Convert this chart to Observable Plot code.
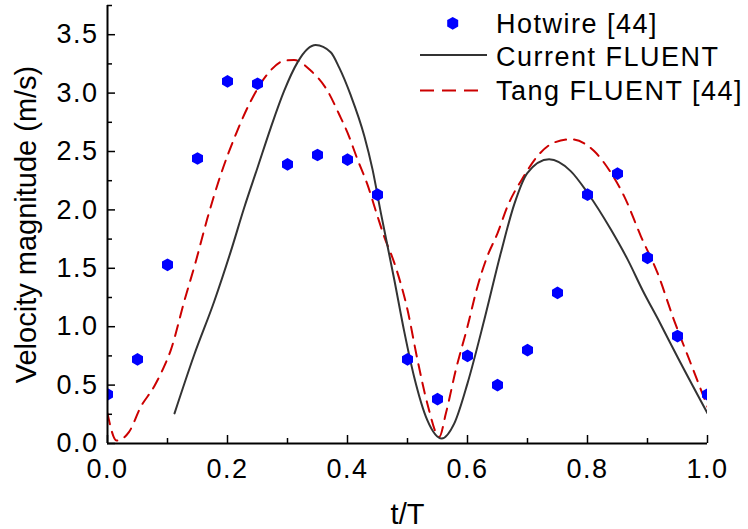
<!DOCTYPE html>
<html><head><meta charset="utf-8">
<script src="https://cdn.jsdelivr.net/npm/d3@7"></script>
<script src="https://cdn.jsdelivr.net/npm/@observablehq/plot@0.6"></script>
<style>
body{margin:0;background:#fff;}
#wrap{position:relative;width:748px;height:529px;}
</style></head><body><div id="wrap"></div>
<script>
// ---- data ----
const hotwireT = [0,0.05,0.1,0.15,0.2,0.25,0.3,0.35,0.4,0.45,0.5,0.55,0.6,0.65,0.7,0.75,0.8,0.85,0.9,0.95,1.0];
const hotwireV = [0.42,0.72,1.53,2.44,3.10,3.08,2.39,2.47,2.43,2.13,0.72,0.38,0.75,0.50,0.80,1.29,2.13,2.31,1.59,0.92,0.42];

const currentT = [0.1117,0.1444,0.1778,0.2055,0.2278,0.250,0.2722,0.2944,0.3167,0.3333,0.347,0.372,0.386,0.4055,0.428,0.4417,0.4555,0.478,0.494,0.511,0.533,0.557,0.578,0.600,0.628,0.6555,0.678,0.700,0.736,0.772,0.800,0.839,0.867,0.892,0.920,0.950,1.0];
const currentV = [0.258,0.758,1.216,1.645,2.018,2.361,2.705,3.019,3.263,3.377,3.411,3.349,3.220,2.980,2.633,2.347,1.977,1.402,0.973,0.572,0.200,0.043,0.172,0.515,1.059,1.631,2.050,2.318,2.433,2.332,2.147,1.832,1.574,1.310,1.040,0.740,0.258];

const tangT = [0,0.015,0.036,0.0555,0.078,0.0917,0.1055,0.1278,0.1472,0.1667,0.1889,0.2139,0.2389,0.2667,0.2944,0.311,0.339,0.3667,0.386,0.400,0.4166,0.433,0.450,0.461,0.478,0.500,0.5167,0.533,0.553,0.564,0.5805,0.600,0.6167,0.633,0.650,0.6667,0.694,0.7167,0.744,0.772,0.811,0.839,0.861,0.889,0.9167,0.944,0.972,1.0];
const tangV = [0.258,0.025,0.100,0.314,0.490,0.629,0.800,1.216,1.559,1.932,2.304,2.647,2.933,3.163,3.277,3.283,3.191,3.019,2.819,2.662,2.433,2.220,1.946,1.774,1.546,1.145,0.715,0.343,0.057,0.258,0.629,1.001,1.345,1.602,1.800,2.031,2.289,2.461,2.576,2.604,2.504,2.318,2.118,1.774,1.460,1.059,0.687,0.314];

const xMajorTicks = [0,0.2,0.4,0.6,0.8,1.0];
const xMinorTicks = [0.1,0.3,0.5,0.7,0.9];
const yMajorTicks = [0,0.5,1.0,1.5,2.0,2.5,3.0,3.5];
const yMinorTicks = [0.25,0.75,1.25,1.75,2.25,2.75,3.25,3.75];
const seriesNames = ["Hotwire [44]","Current FLUENT","Tang FLUENT [44]"];
const xLabel = "t/T";
const yLabel = "Velocity magnitude (m/s)";

const hotwire = hotwireT.map((t,i)=>({t, v: hotwireV[i]}));
const current = currentT.map((t,i)=>({t, v: currentV[i]}));
const tang = tangT.map((t,i)=>({t, v: tangV[i]}));

// ---- layout ----
const W = 748, H = 529, mL = 107, mR = 41, mT = 5, mB = 86;
const plotH = H - mT - mB, plotW = W - mL - mR;
const FONT = "'Liberation Sans', Arial, sans-serif";
const BLUE = "#0000ff", RED = "#cc0000", DARK = "#333333";

const chart = Plot.plot({
  width: W, height: H,
  marginLeft: mL, marginRight: mR, marginTop: mT, marginBottom: mB,
  style: {fontFamily: FONT, background: "#fff", color: "#000", overflow: "visible"},
  x: {domain: [0, 1]},
  y: {domain: [0, 3.75]},
  marks: [
    Plot.line(tang, {x: "t", y: "v", stroke: RED, strokeWidth: 2, strokeDasharray: "11,8", curve: "monotone-x", clip: true}),
    Plot.line(current, {x: "t", y: "v", stroke: DARK, strokeWidth: 2, curve: "monotone-x", clip: true}),
    Plot.dot(hotwire, {x: "t", y: "v", symbol: "hexagon", r: 5.5, fill: BLUE, stroke: "none", clip: true}),
    Plot.tickX(xMajorTicks, {x: d => d, insetTop: plotH - 8, stroke: "#000", strokeWidth: 1.5}),
    Plot.tickX(xMinorTicks, {x: d => d, insetTop: plotH - 5, stroke: "#000", strokeWidth: 1.5}),
    Plot.tickY(yMajorTicks, {y: d => d, insetRight: plotW - 8, stroke: "#000", strokeWidth: 1.5}),
    Plot.tickY(yMinorTicks, {y: d => d, insetRight: plotW - 5, stroke: "#000", strokeWidth: 1.5}),
    Plot.ruleX([0], {stroke: "#000", strokeWidth: 2}),
    Plot.ruleY([0], {stroke: "#000", strokeWidth: 2}),
    Plot.axisX({ticks: xMajorTicks, tickFormat: d3.format(".1f"), tickSize: 0, tickPadding: 15, fontSize: 27, label: null}),
    Plot.axisY({ticks: yMajorTicks, tickFormat: d3.format(".1f"), tickSize: 0, tickPadding: 9, fontSize: 27, label: null}),
    Plot.axisX({ticks: [], label: xLabel, labelAnchor: "center", labelOffset: 80, labelArrow: "none", fontSize: 29}),
    Plot.axisY({ticks: [], label: yLabel, labelAnchor: "center", labelOffset: 92, labelArrow: "none", fontSize: 29})
  ]
});
const wrap = document.getElementById("wrap");
wrap.appendChild(chart);
d3.select(chart).selectAll("[aria-label='x-axis tick label'] text, [aria-label='y-axis tick label'] text").style("letter-spacing", "1.5px");

// ---- legend (top right, inside plot) ----
const leg = d3.select(wrap).append("svg")
  .attr("width", W).attr("height", 120)
  .style("position", "absolute").style("left", "0px").style("top", "0px")
  .style("font-family", FONT);
const rows = [
  {name: seriesNames[0], kind: "dot", cy: 23.3, base: 33.3},
  {name: seriesNames[1], kind: "solid", cy: 55, base: 65.5},
  {name: seriesNames[2], kind: "dash", cy: 90.5, base: 100}
];
const hex = (cx, cy, r) => {
  const ry = r * 2 / Math.sqrt(3), hy = ry / 2;
  return `M${cx},${cy+ry}L${cx+r},${cy+hy}L${cx+r},${cy-hy}L${cx},${cy-ry}L${cx-r},${cy-hy}L${cx-r},${cy+hy}Z`;
};
for (const r of rows) {
  if (r.kind === "dot") leg.append("path").attr("d", hex(452.7, r.cy, 5.5)).attr("fill", BLUE);
  if (r.kind === "solid") leg.append("line").attr("x1", 420).attr("x2", 487).attr("y1", r.cy).attr("y2", r.cy).attr("stroke", DARK).attr("stroke-width", 2);
  if (r.kind === "dash") leg.append("line").attr("x1", 420).attr("x2", 478).attr("y1", r.cy).attr("y2", r.cy).attr("stroke", RED).attr("stroke-width", 2).attr("stroke-dasharray", "14,8");
  leg.append("text").attr("x", 496).attr("y", r.base).attr("font-size", 27).style("letter-spacing", "1.5px").attr("fill", "#000").text(r.name);
}
</script></body></html>
